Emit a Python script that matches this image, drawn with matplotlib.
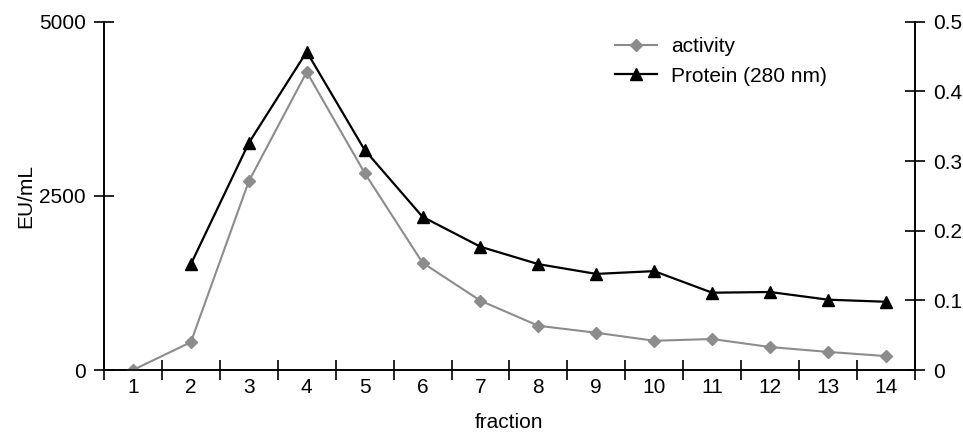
import matplotlib
matplotlib.use("Agg")
import matplotlib.pyplot as plt

plt.rcParams['font.family'] = ['Liberation Sans', 'DejaVu Sans']

fractions = list(range(1, 15))
activity = [0, 400, 2710, 4280, 2830, 1540, 995, 635, 535, 420, 445, 330, 260, 200]
protein_fractions = list(range(2, 15))
protein = [0.152, 0.326, 0.457, 0.316, 0.220, 0.177, 0.152, 0.138, 0.142, 0.111, 0.112, 0.101, 0.098]
left_ticks = [0, 2500, 5000]
right_ticks = [0, 0.1, 0.2, 0.3, 0.4, 0.5]

fig = plt.figure(figsize=(9.63, 4.32), dpi=100)
ax = fig.add_axes([0.108, 0.1435, 0.842, 0.806])
ax2 = ax.twinx()

fs = 15
l1, = ax.plot(fractions, activity, color='#8c8c8c', marker='D', markersize=6,
              linewidth=1.5, label='activity', zorder=3)
l2, = ax2.plot(protein_fractions, protein, color='black', marker='^', markersize=9,
               linewidth=1.6, label='Protein (280 nm)', zorder=3)

ax.set_xlim(0.5, 14.5)
ax.set_ylim(0, 5000)
ax2.set_ylim(0, 0.5)
ax.set_yticks(left_ticks)
ax.set_yticklabels([str(v) for v in left_ticks], fontsize=fs)
ax2.set_yticks(right_ticks)
ax2.set_yticklabels(['0', '0.1', '0.2', '0.3', '0.4', '0.5'], fontsize=fs)

ax.set_xticks([x + 0.5 for x in range(0, 15)])
ax.set_xticklabels([])
ax.set_xticks(fractions, minor=True)
ax.set_xticklabels([str(f) for f in fractions], minor=True, fontsize=fs)
ax.tick_params(axis='x', which='minor', length=0, pad=6)
ax.tick_params(axis='x', which='major', direction='inout', length=14, width=1.2)
ax.tick_params(axis='y', direction='inout', length=14, width=1.2, pad=6)
ax2.tick_params(axis='y', direction='inout', length=14, width=1.2, pad=6)

for a in (ax, ax2):
    a.spines['top'].set_visible(False)
    for s in ('left', 'right', 'bottom'):
        a.spines[s].set_linewidth(1.2)

ax.set_xlabel('fraction', fontsize=fs, labelpad=11)
ax.set_ylabel('EU/mL', fontsize=fs, labelpad=3)

leg = ax.legend(handles=[l1, l2], loc='upper left', bbox_to_anchor=(0.607, 1.01),
                frameon=False, fontsize=fs, handlelength=2.0, handletextpad=0.7,
                labelspacing=0.5)

fig.savefig('out.png', dpi=100)
